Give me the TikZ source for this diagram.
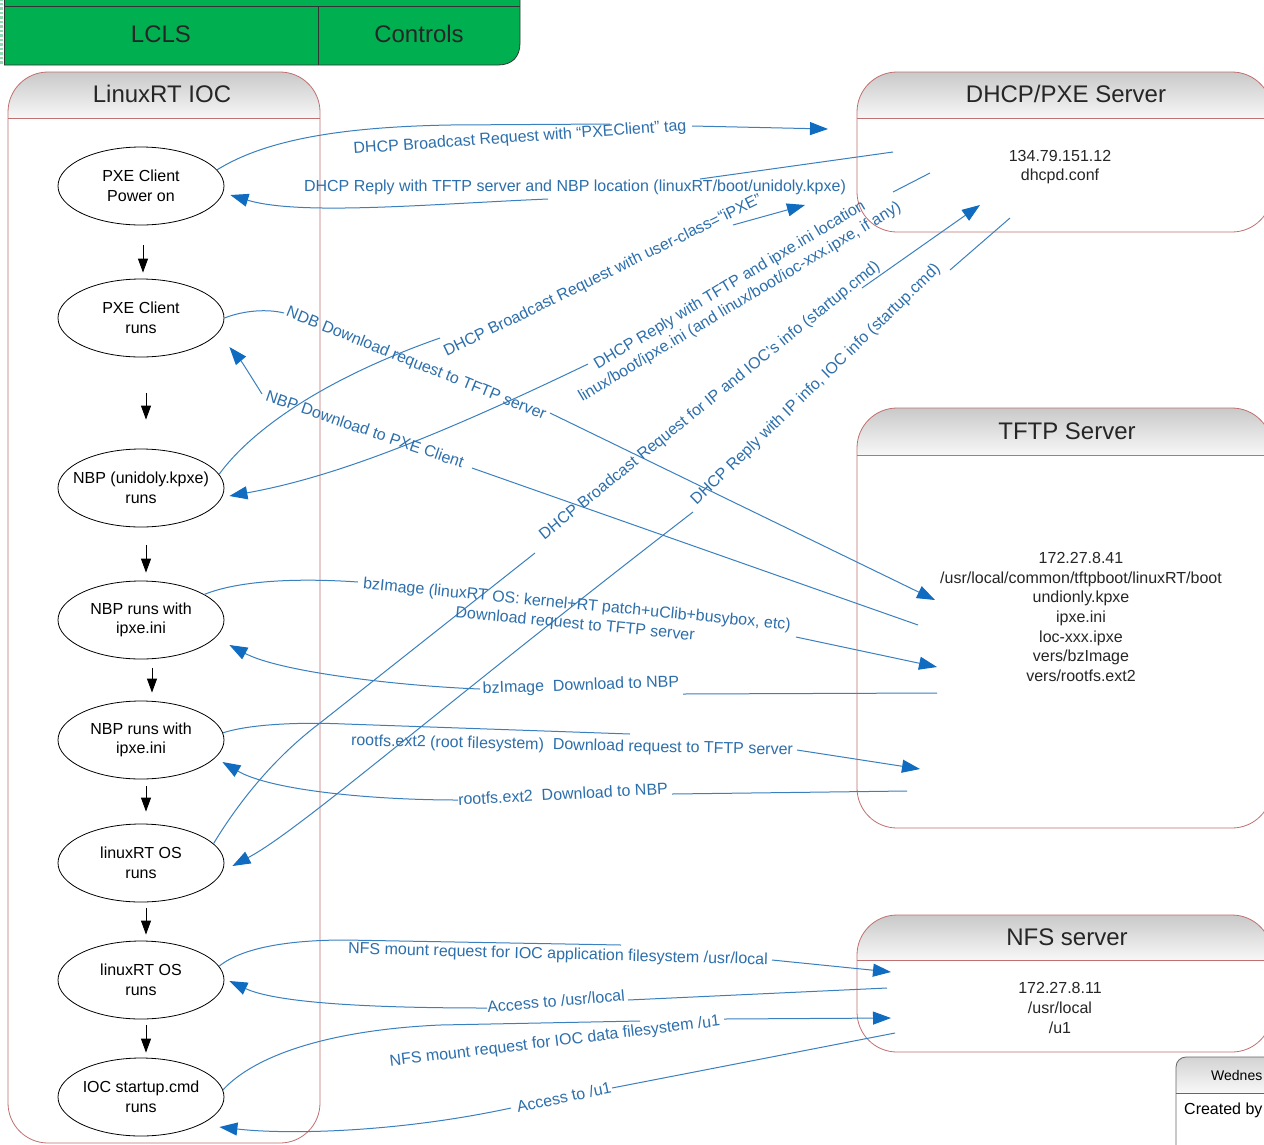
\documentclass[tikz,border=0pt]{standalone}
\usepackage{fontspec}
\setmainfont{Liberation Sans}
\usetikzlibrary{shapes.geometric,arrows.meta}

\definecolor{lclsgreen}{HTML}{00B050}
\definecolor{poolline}{HTML}{C07070}
\definecolor{msgline}{HTML}{3A80BE}
\definecolor{msgtext}{HTML}{2C6FAC}
\definecolor{tipblue}{HTML}{0F6CC0}
\definecolor{hdrtop}{HTML}{C9C9C9}

\newcommand{\msgfont}{\fontsize{16}{19.6}\selectfont}
\newcommand{\hdrfont}{\fontsize{24}{28}\selectfont}

% swim-lane style container with a shaded title band
\newcommand{\drawpool}[5]{%
  \begin{scope}
    \clip[rounded corners=40pt] (#1,#2) rectangle (#3,#4);
    \fill[white] (#1,#2) rectangle (#3,#4);
    \shade[top color=hdrtop, bottom color=gray!6] (#1,#2) rectangle (#3,#5);
  \end{scope}
  \draw[poolline, line width=0.8pt, rounded corners=40pt] (#1,#2) rectangle (#3,#4);
  \draw[poolline, line width=0.8pt] (#1,#5) -- (#3,#5);
}

\tikzset{
  state/.style={ellipse, draw=black, line width=0.8pt, minimum width=166pt,
    minimum height=78pt, inner xsep=-12pt, inner ysep=0pt, align=center, font=\msgfont},
  flow/.style={-{Triangle[length=14pt,width=10pt]}, line width=0.9pt, black},
  msg/.style={draw=msgline, line width=1pt},
  msgarrow/.style={msg, -{Triangle[length=18pt,width=13pt,color=tipblue]}},
  lbl/.style={text=msgtext, font=\msgfont, inner sep=1pt, align=center},
  hdr/.style={font=\hdrfont, text=black!85},
  info/.style={font=\msgfont, align=center, text=black!85},
}

\begin{document}
\begin{tikzpicture}[x=1pt,y=-1pt]
\useasboundingbox (0,0) rectangle (1264,1144);
\clip (0,0) rectangle (1264,1144);
\fill[white] (0,0) rectangle (1264,1144);

% ---- title band ----
\fill[lclsgreen] (4,-2) -- (520,-2) -- (520,43) .. controls (520,57) and (512,65) .. (498,65) -- (4,65) -- cycle;
\draw[lclsgreen!45!white, line width=2.5pt, dotted] (1.5,-2) -- (1.5,65);
\draw[black!80, line width=0.8pt] (4,6) -- (520,6);
\draw[black!80, line width=0.8pt] (520,-2) -- (520,43) .. controls (520,57) and (512,65) .. (498,65) -- (4,65);
\draw[black!80, line width=0.8pt] (4,-2) -- (4,65);
\draw[black!80, line width=0.8pt] (318,6) -- (318,65);
\node[hdr] (lcls) at (161,34) {LCLS};
\node[hdr] (controls) at (419,34) {Controls};

% ---- containers ----
\drawpool{8}{72}{320}{1143}{118}
\drawpool{857}{72}{1272}{232}{118}
\drawpool{857}{408}{1272}{828}{455}
\drawpool{857}{915}{1272}{1052}{960}

\node[hdr] (ioc) at (162,94) {LinuxRT IOC};
\node[hdr] (dhcp) at (1066,94) {DHCP/PXE Server};
\node[hdr] (tftp) at (1067,431) {TFTP Server};
\node[hdr] (nfs) at (1067,937) {NFS server};

\node[info] (dhcpinfo) at (1060,167) {134.79.151.12\\dhcpd.conf};
\node[info] (tftpinfo) at (1081,617) {172.27.8.41\\/usr/local/common/tftpboot/linuxRT/boot\\undionly.kpxe\\ipxe.ini\\loc-xxx.ipxe\\vers/bzImage\\vers/rootfs.ext2};
\node[info] (nfsinfo) at (1060,1008) {172.27.8.11\\/usr/local\\/u1};

% ---- date / author stamp ----
\begin{scope}
  \clip[rounded corners=10pt] (1176,1057) rectangle (1300,1170);
  \fill[white] (1176,1057) rectangle (1300,1170);
  \shade[top color=gray!35, bottom color=gray!5] (1176,1057) rectangle (1300,1093);
\end{scope}
\draw[gray!80!black, line width=0.8pt, rounded corners=10pt] (1176,1057) rectangle (1300,1170);
\draw[gray!80!black, line width=0.8pt] (1176,1093) -- (1300,1093);
\node[anchor=west, font=\fontsize{14}{16}\selectfont, inner sep=0pt] (stampdate) at (1211,1075) {Wednes};
\node[anchor=west, font=\msgfont, inner sep=0pt] (stampauthor) at (1184,1110) {Created by};

% ---- boot states ----
\node[state] (e1) at (141,186) {PXE Client\\Power on};
\node[state] (e2) at (141,318) {PXE Client\\runs};
\node[state] (e3) at (141,488) {NBP (unidoly.kpxe)\\runs};
\node[state] (e4) at (141,620) {NBP runs with\\ipxe.ini};
\node[state] (e5) at (141,740) {NBP runs with\\ipxe.ini};
\node[state] (e6) at (141,863) {linuxRT OS\\runs};
\node[state] (e7) at (141,980) {linuxRT OS\\runs};
\node[state] (e8) at (141,1097) {IOC startup.cmd\\runs};

\draw[flow, shorten <=20pt, shorten >=6pt] ([xshift=2pt]e1.south) -- ([xshift=2pt]e2.north);
\draw[flow, shorten <=36pt, shorten >=29pt] ([xshift=5pt]e2.south) -- ([xshift=5pt]e3.north);
\draw[flow, shorten <=18pt, shorten >=8pt] ([xshift=5pt]e3.south) -- ([xshift=5pt]e4.north);
\draw[flow, shorten <=9pt, shorten >=8pt] ([xshift=11pt]e4.south) -- ([xshift=11pt]e5.north);
\draw[flow, shorten <=7pt, shorten >=12pt] ([xshift=5pt]e5.south) -- ([xshift=5pt]e6.north);
\draw[flow, shorten <=6pt, shorten >=6pt] ([xshift=5pt]e6.south) -- ([xshift=5pt]e7.north);
\draw[flow, shorten <=6pt, shorten >=5pt] ([xshift=5pt]e7.south) -- ([xshift=5pt]e8.north);

% ---- message end points inside the servers ----
\coordinate (dA) at (828,129);
\coordinate (dB) at (893,152);
\coordinate (dC) at (805,205);
\coordinate (dD) at (930,173);
\coordinate (dE) at (980,205);
\coordinate (dF) at (1010,218);
\coordinate (tA) at (935,600);
\coordinate (tB) at (918,625);
\coordinate (tC) at (937,667);
\coordinate (tD) at (937,693);
\coordinate (tE) at (920,769);
\coordinate (tF) at (907,791);
\coordinate (nA) at (891,972);
\coordinate (nB) at (887,988);
\coordinate (nC) at (891,1018);
\coordinate (nD) at (895,1033);

% ---- DHCP / PXE exchange ----
\draw[msg] (e1.12) .. controls (265,140) and (340,127) .. (450,125) -- (610,124);
\draw[msgarrow] (692,126) -- (dA);
\node[lbl, rotate=4] (m1) at (520,138) {DHCP Broadcast Request with “PXEClient” tag};

\draw[msg] (dB) -- (700,179);
\draw[msgarrow] (548,199) .. controls (430,204) and (300,216) .. ([shift={(6,9)}]e1.east);
\node[lbl] (m2) at (575,187) {DHCP Reply with TFTP server and NBP location (linuxRT/boot/unidoly.kpxe)};

\draw[msg] (e3.10) .. controls (250,432) and (320,380) .. (440,338);
\draw[msgarrow] (733,225) -- (dC);
\node[lbl, rotate=26] (m3) at (603,276) {DHCP Broadcast Request with user-class=“iPXE”};

\draw[msg] (dD) -- (893,192);
\draw[msgarrow] (588,364) .. controls (430,440) and (330,478) .. ([shift={(5,8)}]e3.east);
\node[lbl, rotate=31] (m4) at (735,294) {DHCP Reply with TFTP and ipxe.ini location\\linux/boot/ipxe.ini (and linux/boot/ioc-xxx.ipxe, if any)};

% ---- NBP download ----
\draw[msg] (e2.east) .. controls (245,310) and (268,309) .. (284,313);
\draw[msgarrow] (550,413) -- (tA);
\node[lbl, rotate=-22] (m5) at (416,364) {NDB Download request to TFTP server};

\draw[msg] (tB) -- (472,468);
\draw[msgarrow] (262,394) .. controls (252,378) and (242,362) .. ([shift={(5,29)}]e2.east);
\node[lbl, rotate=-19] (m6) at (365,429) {NBP Download to PXE Client};

% ---- IP / IOC info ----
\draw[msg] (e6.15) .. controls (240,800) and (275,757) .. (320,723) -- (535,553);
\draw[msgarrow] (862,288) -- (dE);
\node[lbl, rotate=39] (m7) at (710,401) {DHCP Broadcast Request for IP and IOC's info (startup.cmd)};

\draw[msg] (dF) -- (950,270);
\draw[msgarrow] (693,512) .. controls (430,715) and (300,830) .. ([shift={(8,3)}]e6.east);
\node[lbl, rotate=44] (m8) at (816,385) {DHCP Reply with IP info, IOC info (startup.cmd)};

% ---- kernel and root filesystem ----
\draw[msg] (e4.22) .. controls (240,580) and (300,578) .. (358,582);
\draw[msgarrow] (796,637) -- (tC);
\node[lbl, rotate=-5.5] (m9) at (576,615) {bzImage (linuxRT OS: kernel+RT patch+uClib+busybox, etc)\\Download request to TFTP server};

\draw[msg] (tD) -- (683,694);
\draw[msgarrow] (480,689) .. controls (400,686) and (280,672) .. ([shift={(5,25)}]e4.east);
\node[lbl, rotate=2] (m10) at (581,686) {bzImage\ \ Download to NBP};

\draw[msg] (e5.5) .. controls (250,724) and (300,722) .. (345,724) -- (630,734);
\draw[msgarrow] (797,750) -- (tE);
\node[lbl, rotate=-1.2] (m11) at (572,746) {rootfs.ext2 (root filesystem)\ \ Download request to TFTP server};

\draw[msg] (tF) -- (672,794);
\draw[msgarrow] (458,800) .. controls (370,800) and (270,790) .. ([shift={(-2,22)}]e5.east);
\node[lbl, rotate=3] (m12) at (563,794) {rootfs.ext2\ \ Download to NBP};

% ---- NFS mounts ----
\draw[msg] (e7.10) .. controls (245,945) and (300,940) .. (345,940) -- (621,945);
\draw[msgarrow] (772,960) -- (nA);
\node[lbl, rotate=-1.5] (m13) at (558,955) {NFS mount request for IOC application filesystem /usr/local};

\draw[msg] (nB) -- (628,1000);
\draw[msgarrow] (487,1008) .. controls (340,1008) and (270,1000) .. ([shift={(5,1)}]e7.east);
\node[lbl, rotate=5] (m14) at (556,1001) {Access to /usr/local};

\draw[msg] (e8.5) .. controls (255,1055) and (330,1030) .. (440,1025) -- (640,1021);
\draw[msgarrow] (724,1019) -- (nC);
\node[lbl, rotate=7] (m15) at (555,1042) {NFS mount request for IOC data filesystem /u1};

\draw[msg] (nD) -- (612,1088);
\draw[msgarrow] (511,1108) .. controls (400,1132) and (290,1135) .. ([shift={(-5,30)}]e8.east);
\node[lbl, rotate=12] (m16) at (564,1097) {Access to /u1};
\end{tikzpicture}
\end{document}
